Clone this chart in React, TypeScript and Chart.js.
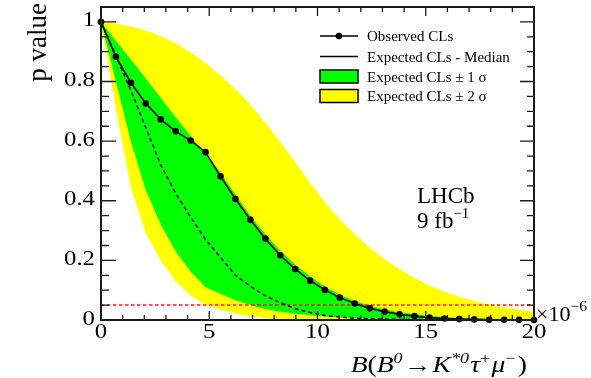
import React, { useEffect, useRef } from "react";
import { Chart, registerables } from "chart.js";

Chart.register(...registerables);

// Scan points of the branching fraction (in units of 1e-6)
const massGrid = [
  0, 0.69, 1.38, 2.07, 2.76, 3.45, 4.14, 4.83, 5.52, 6.21, 6.9, 7.59, 8.28, 8.97, 9.66,
  10.34, 11.03, 11.72, 12.41, 13.1, 13.79, 14.48, 15.17, 15.86, 16.55, 17.24, 17.93, 18.62,
  19.31, 20,
];

const observedCLs = [
  1.0, 0.883, 0.796, 0.726, 0.673, 0.633, 0.602, 0.563, 0.482, 0.406, 0.336, 0.273, 0.217,
  0.171, 0.132, 0.101, 0.075, 0.055, 0.039, 0.028, 0.019, 0.013, 0.008, 0.005, 0.003, 0.002,
  0.001, 0.001, 0.0005, 0.0,
];

const expectedMedian = [
  1.0, 0.885, 0.77, 0.645, 0.52, 0.425, 0.345, 0.27, 0.21, 0.15, 0.113, 0.081, 0.058, 0.038,
  0.025, 0.015, 0.01, 0.006, 0.004, 0.003, 0.002, 0.0015, 0.001, 0.001, 0.001, 0.0005, 0.0005,
  0.0005, 0.0, 0.0,
];

const expectedPlus1 = [
  1.0, 0.937, 0.874, 0.81, 0.745, 0.68, 0.617, 0.558, 0.495, 0.42, 0.35, 0.288, 0.232, 0.185,
  0.146, 0.112, 0.085, 0.064, 0.048, 0.035, 0.026, 0.019, 0.014, 0.01, 0.007, 0.005, 0.004,
  0.003, 0.002, 0.002,
];

const expectedMinus1 = [
  1.0, 0.8, 0.6, 0.435, 0.32, 0.23, 0.163, 0.11, 0.087, 0.066, 0.05, 0.037, 0.028, 0.021,
  0.016, 0.012, 0.009, 0.007, 0.005, 0.004, 0.003, 0.0025, 0.002, 0.0015, 0.001, 0.001, 0.001,
  0.0005, 0.0005, 0.0005,
];

const expectedPlus2 = [
  1.0, 0.995, 0.985, 0.971, 0.952, 0.928, 0.898, 0.862, 0.82, 0.774, 0.722, 0.662, 0.598, 0.53,
  0.46, 0.395, 0.338, 0.287, 0.243, 0.204, 0.17, 0.141, 0.116, 0.095, 0.078, 0.064, 0.052,
  0.042, 0.034, 0.028,
];

const expectedMinus2 = [
  1.0, 0.71, 0.445, 0.29, 0.2, 0.13, 0.082, 0.05, 0.034, 0.021, 0.012, 0.006, 0.002, 0, 0, 0,
  0, 0, 0, 0, 0, 0, 0, 0, 0, 0, 0, 0, 0, 0,
];

// 95% CL threshold
const limitLevel = 0.05;

const xTickValues = [0, 5, 10, 15, 20];
const xTickLabels = ["0", "5", "10", "15", "20"];
const yTickValues = [0, 0.2, 0.4, 0.6, 0.8, 1];
const yTickLabels = ["0", "0.2", "0.4", "0.6", "0.8", "1"];

const legendLabels = [
  "Observed CLs",
  "Expected CLs - Median",
  "Expected CLs \u00b1 1 \u03c3",
  "Expected CLs \u00b1 2 \u03c3",
];

const SERIF = '"Liberation Serif", "DejaVu Serif", serif';
const GREEN = "#00ff00";
const YELLOW = "#ffff00";

type Run = { text: string; size: number; italic?: boolean; rise?: number; gap?: number };

function runFont(r: Run) {
  return `${r.italic ? "italic " : ""}${r.size}px ${SERIF}`;
}

function runsWidth(ctx: CanvasRenderingContext2D, runs: Run[]) {
  let w = 0;
  for (const r of runs) {
    ctx.font = runFont(r);
    w += ctx.measureText(r.text).width + (r.gap || 0);
  }
  return w;
}

// draws a sequence of runs starting at x, optionally widened horizontally
function drawRuns(
  ctx: CanvasRenderingContext2D,
  runs: Run[],
  x: number,
  y: number,
  sx = 1
) {
  ctx.save();
  ctx.translate(x, y);
  ctx.scale(sx, 1);
  let cx = 0;
  ctx.textAlign = "left";
  ctx.textBaseline = "alphabetic";
  for (const r of runs) {
    ctx.font = runFont(r);
    ctx.fillText(r.text, cx, -(r.rise || 0));
    cx += ctx.measureText(r.text).width + (r.gap || 0);
  }
  ctx.restore();
}

function fillWide(
  ctx: CanvasRenderingContext2D,
  text: string,
  x: number,
  y: number,
  sx: number
) {
  ctx.save();
  ctx.translate(x, y);
  ctx.scale(sx, 1);
  ctx.fillText(text, 0, 0);
  ctx.restore();
}

const xTitle: Run[] = [
  { text: "B", size: 23, italic: true },
  { text: "(", size: 23 },
  { text: "B", size: 23, italic: true },
  { text: "0", size: 15, italic: true, rise: 9, gap: 1 },
  { text: "\u2192", size: 23, gap: 1 },
  { text: "K", size: 23, italic: true },
  { text: "*0", size: 15, italic: true, rise: 9, gap: 1 },
  { text: "\u03c4", size: 23, italic: true },
  { text: "+", size: 15, rise: 9, gap: 1 },
  { text: "\u03bc", size: 23, italic: true },
  { text: "\u2212", size: 15, rise: 9, gap: 2 },
  { text: ")", size: 23 },
];

const exponentLabel: Run[] = [
  { text: "\u00d710", size: 21 },
  { text: "\u22126", size: 15, rise: 10 },
];

const lumiLabel: Run[] = [
  { text: "9 fb", size: 23 },
  { text: "\u22121", size: 15, rise: 10 },
];

const TICK_SX = 1.18;
const TITLE_SX = 1.2;

const framePlugin = {
  id: "rootFrame",
  afterDatasetsDraw(chart: any) {
    const ctx: CanvasRenderingContext2D = chart.ctx;
    const xs = chart.scales.x;
    const ys = chart.scales.y;
    const { left, right, top, bottom } = chart.chartArea;
    ctx.save();

    // zero line below the 2 sigma band
    const zeroEnd = massGrid[expectedMinus2.findIndex((v) => v === 0)];
    ctx.strokeStyle = "#000080";
    ctx.lineWidth = 2;
    ctx.beginPath();
    ctx.moveTo(xs.getPixelForValue(0), ys.getPixelForValue(0));
    ctx.lineTo(xs.getPixelForValue(zeroEnd), ys.getPixelForValue(0));
    ctx.stroke();

    // frame
    ctx.strokeStyle = "#1a1a1a";
    ctx.lineWidth = 2;
    ctx.strokeRect(left, top, right - left, bottom - top);

    // ticks
    ctx.lineWidth = 1.3;
    ctx.beginPath();
    for (let i = 0; i <= 20; i++) {
      const px = xs.getPixelForValue(i);
      const len = i % 5 === 0 ? 9 : 5;
      ctx.moveTo(px, bottom);
      ctx.lineTo(px, bottom - len);
      ctx.moveTo(px, top);
      ctx.lineTo(px, top + len);
    }
    for (let j = 0; j * 0.05 <= 1.05 + 1e-9; j++) {
      const py = ys.getPixelForValue(j * 0.05);
      const major = j % 4 === 0;
      ctx.moveTo(left, py);
      ctx.lineTo(left + (major ? 15 : 8), py);
      ctx.moveTo(right, py);
      ctx.lineTo(right - (major ? 14 : 7), py);
    }
    ctx.stroke();

    // tick labels
    ctx.fillStyle = "#000";
    ctx.font = `21px ${SERIF}`;
    ctx.textAlign = "right";
    ctx.textBaseline = "middle";
    yTickValues.forEach((v, i) => {
      fillWide(ctx, yTickLabels[i], left - 6, ys.getPixelForValue(v) - 1, TICK_SX);
    });
    ctx.textAlign = "center";
    xTickValues.forEach((v, i) => {
      fillWide(ctx, xTickLabels[i], xs.getPixelForValue(v), bottom + 12, TICK_SX);
    });

    // axis titles
    const tw = runsWidth(ctx, xTitle) * TITLE_SX;
    drawRuns(ctx, xTitle, right - 7 - tw, 372, TITLE_SX);
    drawRuns(ctx, exponentLabel, right + 2, bottom + 1, 1.05);

    ctx.save();
    ctx.translate(46, 3);
    ctx.rotate(-Math.PI / 2);
    ctx.font = `27px ${SERIF}`;
    ctx.textAlign = "right";
    ctx.textBaseline = "alphabetic";
    ctx.fillText("p value", 0, 0);
    ctx.restore();

    // experiment label
    ctx.font = `23px ${SERIF}`;
    ctx.textAlign = "left";
    ctx.textBaseline = "alphabetic";
    ctx.fillText("LHCb", 417, 203);
    drawRuns(ctx, lumiLabel, 417, 228);

    // legend
    const symL = 320;
    const symR = 358;
    const rows = [36, 56.5, 76.5, 96];
    ctx.strokeStyle = "#000";
    ctx.lineWidth = 1.5;
    ctx.beginPath();
    ctx.moveTo(symL, rows[0]);
    ctx.lineTo(symR, rows[0]);
    ctx.moveTo(symL, rows[1]);
    ctx.lineTo(symR, rows[1]);
    ctx.stroke();
    ctx.fillStyle = "#000";
    ctx.beginPath();
    ctx.arc((symL + symR) / 2, rows[0], 3.3, 0, Math.PI * 2);
    ctx.fill();
    [GREEN, YELLOW].forEach((c, k) => {
      const cy = rows[2 + k];
      ctx.fillStyle = c;
      ctx.fillRect(symL, cy - 6.5, symR - symL, 13);
      ctx.strokeRect(symL, cy - 6.5, symR - symL, 13);
    });
    ctx.fillStyle = "#000";
    ctx.font = `15px ${SERIF}`;
    legendLabels.forEach((t, k) => {
      ctx.fillText(t, 367, rows[k] + 5);
    });

    ctx.restore();
  },
};

function series(values: number[]) {
  return massGrid.map((x, i) => ({ x, y: values[i] }));
}

export default function App() {
  const canvasRef = useRef<HTMLCanvasElement | null>(null);

  useEffect(() => {
    const canvas = canvasRef.current;
    if (!canvas) return;
    const threshold = [
      { x: massGrid[0], y: limitLevel },
      { x: massGrid[massGrid.length - 1], y: limitLevel },
    ];
    const chart = new Chart(canvas, {
      type: "line",
      data: {
        datasets: [
          {
            label: "Observed CLs",
            data: series(observedCLs),
            borderColor: "#000",
            borderWidth: 1.6,
            pointRadius: 3.3,
            pointBackgroundColor: "#000",
            pointBorderWidth: 0,
            clip: false as any,
            fill: false,
          },
          {
            label: "Expected CLs - Median",
            data: series(expectedMedian),
            borderColor: "#000",
            borderWidth: 1.5,
            borderDash: [4, 3],
            pointRadius: 0,
            fill: false,
          },
          {
            label: "CL threshold",
            data: threshold,
            borderColor: "#ff1a1a",
            borderWidth: 1.5,
            borderDash: [3.5, 2.5],
            pointRadius: 0,
            fill: false,
          },
          {
            label: "+1 sigma",
            data: series(expectedPlus1),
            borderWidth: 0,
            borderColor: "rgba(0,0,0,0)",
            backgroundColor: GREEN,
            pointRadius: 0,
            fill: "+1",
          },
          {
            label: "-1 sigma",
            data: series(expectedMinus1),
            borderWidth: 0,
            borderColor: "rgba(0,0,0,0)",
            pointRadius: 0,
            fill: false,
          },
          {
            label: "+2 sigma",
            data: series(expectedPlus2),
            borderWidth: 0,
            borderColor: "rgba(0,0,0,0)",
            backgroundColor: YELLOW,
            pointRadius: 0,
            fill: "+1",
          },
          {
            label: "-2 sigma",
            data: series(expectedMinus2),
            borderWidth: 0,
            borderColor: "rgba(0,0,0,0)",
            pointRadius: 0,
            fill: false,
          },
        ],
      },
      options: {
        animation: false,
        responsive: false,
        maintainAspectRatio: false,
        devicePixelRatio: 1,
        parsing: false as any,
        normalized: true,
        layout: { padding: { left: 101, right: 57, top: 7, bottom: 58 } },
        elements: { line: { tension: 0 } },
        scales: {
          x: { type: "linear", min: 0, max: 20, display: false },
          y: { type: "linear", min: 0, max: 1.05, display: false },
        },
        plugins: {
          legend: { display: false },
          tooltip: { enabled: false },
          filler: { propagate: false },
        },
      },
      plugins: [framePlugin],
    });
    return () => chart.destroy();
  }, []);

  return (
    <div
      style={{
        position: "fixed",
        left: 0,
        top: 0,
        width: 591,
        height: 378,
        background: "#fff",
      }}
    >
      <canvas ref={canvasRef} width={591} height={378} style={{ display: "block" }} />
    </div>
  );
}
